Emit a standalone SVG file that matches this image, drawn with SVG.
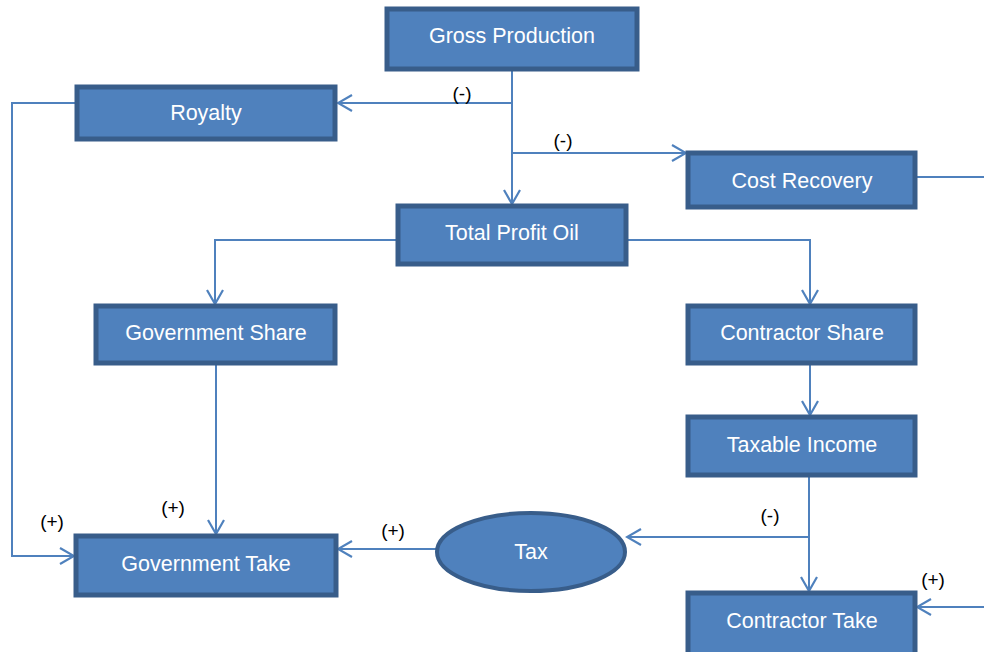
<svg xmlns="http://www.w3.org/2000/svg" width="984" height="652" viewBox="0 0 984 652">
<style>
.box{fill:#4F81BD;stroke:#385D8A;stroke-width:5}
.t{fill:#FFFFFF;font-family:"Liberation Sans",Arial,sans-serif;font-size:21.5px;text-anchor:middle;dominant-baseline:central}
.c{fill:none;stroke:#4F81BD;stroke-width:2}
.l{fill:#000000;font-family:"Liberation Sans",Arial,sans-serif;font-size:19px;text-anchor:middle;dominant-baseline:central}
</style>
<defs>
<marker id="a" viewBox="0 0 20 20" refX="18" refY="10" markerWidth="20" markerHeight="20" markerUnits="userSpaceOnUse" orient="auto">
<polyline points="4,2 18,10 4,18" fill="none" stroke="#4F81BD" stroke-width="2.2"/>
</marker>
</defs>
<rect width="984" height="652" fill="#FFFFFF"/>
<g id="connectors">
<path class="c" d="M512,70 V204" marker-end="url(#a)"/>
<path class="c" d="M512,103 H338" marker-end="url(#a)"/>
<path class="c" d="M512,153 H686" marker-end="url(#a)"/>
<path class="c" d="M916,177 H984"/>
<path class="c" d="M76,103 H12 V556 H74" marker-end="url(#a)"/>
<path class="c" d="M397,240 H215 V304" marker-end="url(#a)"/>
<path class="c" d="M627,240 H810 V304" marker-end="url(#a)"/>
<path class="c" d="M216,364 V534" marker-end="url(#a)"/>
<path class="c" d="M810,364 V415" marker-end="url(#a)"/>
<path class="c" d="M809,476 V591" marker-end="url(#a)"/>
<path class="c" d="M809,537 H627" marker-end="url(#a)"/>
<path class="c" d="M436,549 H338" marker-end="url(#a)"/>
<path class="c" d="M984,607 H917" marker-end="url(#a)"/>
</g>
<g id="labels">
<text class="l" x="462" y="93">(-)</text>
<text class="l" x="563" y="140">(-)</text>
<text class="l" x="52" y="521">(+)</text>
<text class="l" x="173" y="507">(+)</text>
<text class="l" x="393" y="530">(+)</text>
<text class="l" x="770" y="515">(-)</text>
<text class="l" x="933" y="579">(+)</text>
</g>
<g id="gross-production"><rect class="box" x="387" y="9" width="250" height="60"/><text class="t" x="512" y="36">Gross Production</text></g>
<g id="royalty"><rect class="box" x="77" y="87" width="258" height="52"/><text class="t" x="206" y="113">Royalty</text></g>
<g id="cost-recovery"><rect class="box" x="688" y="153" width="227" height="54"/><text class="t" x="802" y="181">Cost Recovery</text></g>
<g id="total-profit-oil"><rect class="box" x="398" y="206" width="228" height="58"/><text class="t" x="512" y="233">Total Profit Oil</text></g>
<g id="government-share"><rect class="box" x="96" y="306" width="239" height="57"/><text class="t" x="216" y="333">Government Share</text></g>
<g id="contractor-share"><rect class="box" x="688" y="306" width="227" height="57"/><text class="t" x="802" y="333">Contractor Share</text></g>
<g id="taxable-income"><rect class="box" x="688" y="417" width="227" height="58"/><text class="t" x="802" y="445">Taxable Income</text></g>
<g id="government-take"><rect class="box" x="76" y="536" width="260" height="59"/><text class="t" x="206" y="564">Government Take</text></g>
<g id="tax"><ellipse cx="531" cy="552" rx="94" ry="39" fill="#4F81BD" stroke="#385D8A" stroke-width="4"/><text class="t" x="531" y="552">Tax</text></g>
<g id="contractor-take"><rect class="box" x="688" y="593" width="227" height="62"/><text class="t" x="802" y="621">Contractor Take</text></g>
</svg>
